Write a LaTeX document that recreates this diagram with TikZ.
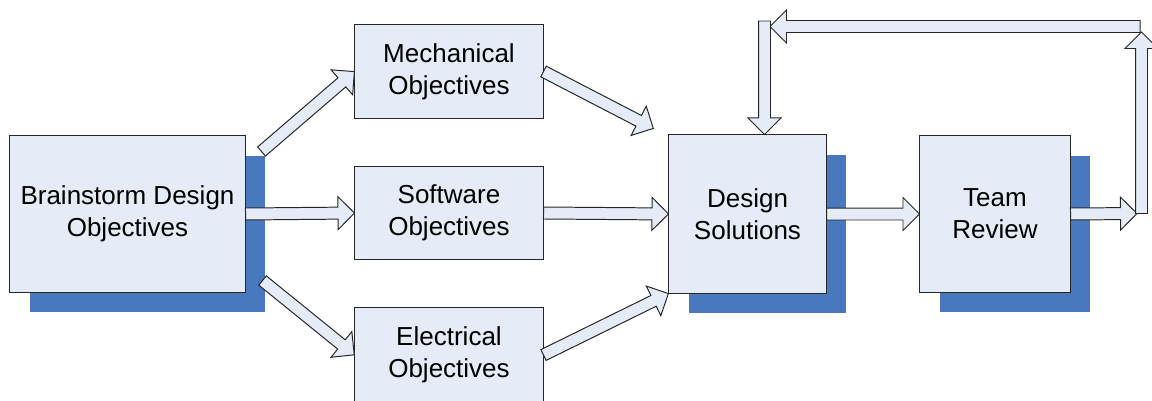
\documentclass[tikz,border=0pt]{standalone}
\usepackage{fontspec}
\setmainfont{Liberation Sans}
\usepackage{xcolor}
\usetikzlibrary{calc,shapes.arrows,shadows}

\definecolor{boxfill}{RGB}{230,236,247}
\definecolor{shadowblue}{RGB}{72,120,190}

\tikzset{
  stagebox/.style={draw=black!85, line width=0.7pt, fill=boxfill, align=center,
    inner sep=0pt, font=\fontsize{18.5}{22.8}\selectfont},
  shadowed/.style={drop shadow={shadow xshift=0.5cm, shadow yshift=-0.5cm,
    fill=shadowblue, opacity=1}},
  blockarr/.style={single arrow, draw=black!85, line width=0.7pt, fill=boxfill,
    inner xsep=0pt, inner ysep=0.1375cm, outer sep=0pt,
    single arrow head extend=0.2625cm, single arrow tip angle=90}
}

% block arrow from one point to another
\newcommand{\blockarrow}[2]{%
  \path let \p1=#1, \p2=#2, \n1={atan2(\y2-\y1,\x2-\x1)},
    \n2={veclen(\x2-\x1,\y2-\y1)} in
    node[blockarr, minimum height=\n2, rotate=\n1, anchor=tail] at (\p1) {};}

\begin{document}
\begin{tikzpicture}[x=0.025cm, y=-0.025cm]
  \useasboundingbox (0,0) rectangle (1152,401);

  % stages
  \node[stagebox, shadowed, minimum width=5.875cm, minimum height=3.9cm] (brain) at (127.5,214) {Brainstorm Design\\Objectives};
  \node[stagebox, minimum width=4.7cm, minimum height=2.325cm] (mech) at (449,71.5) {Mechanical\\Objectives};
  \node[stagebox, minimum width=4.7cm, minimum height=2.325cm] (soft) at (449,213) {Software\\Objectives};
  \node[stagebox, minimum width=4.7cm, minimum height=2.35cm] (elec) at (449,355) {Electrical\\Objectives};
  \node[stagebox, shadowed, minimum width=3.925cm, minimum height=3.95cm] (design) at (747.5,214) {Design\\Solutions};
  \node[stagebox, shadowed, minimum width=3.75cm, minimum height=3.9cm] (team) at (995,214) {Team\\Review};

  % feedback loop corners
  \coordinate (riseB) at (1137,213.5);
  \coordinate (riseT) at (1141.5,32);
  \coordinate (topR) at (1140,26.5);
  \coordinate (topL) at (770,26.5);
  \coordinate (dropT) at (764.5,21);

  % arrows
  \blockarrow{($(brain.north east)+(16,16)$)}{(mech.west)}
  \blockarrow{(brain.east)}{(soft.west)}
  \blockarrow{($(brain.south east)+(17,-12)$)}{(elec.west)}
  \blockarrow{(mech.east)}{($(design.north west)+(-15,-6)$)}
  \blockarrow{(soft.east)}{(design.west)}
  \blockarrow{(elec.east)}{(design.south west)}
  \blockarrow{(design.east)}{(team.west)}
  \blockarrow{(team.east)}{(riseB)}
  \blockarrow{($(riseB)+(4.5,0)$)}{(riseT)}
  \blockarrow{(topR)}{(topL)}
  \blockarrow{(dropT)}{($(design.north)+(17,0)$)}
\end{tikzpicture}
\end{document}
